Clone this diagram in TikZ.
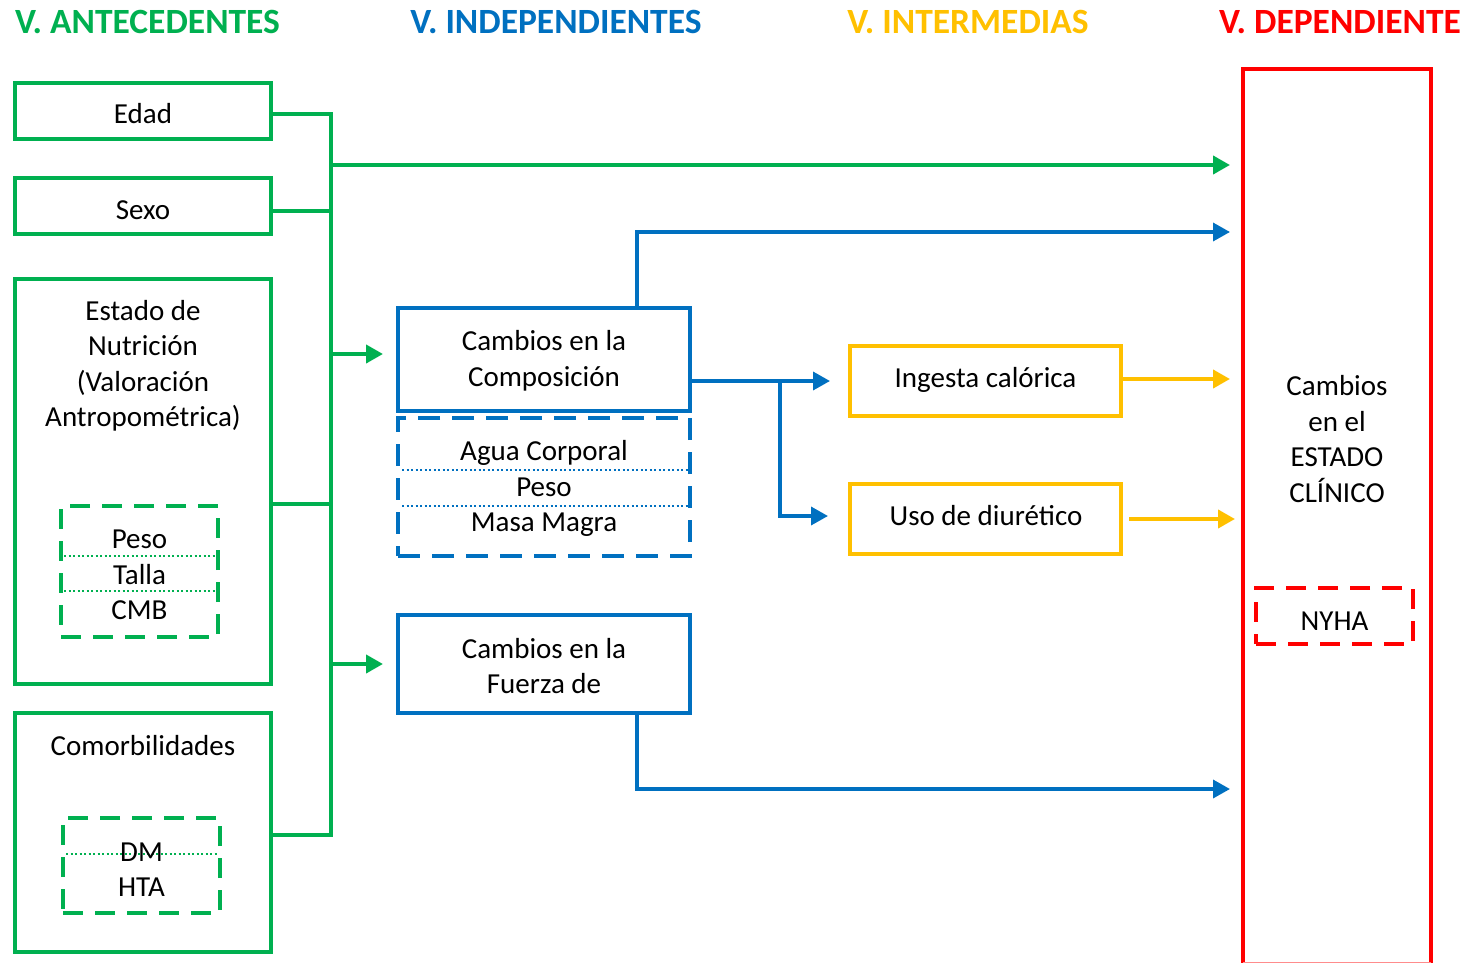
\documentclass[tikz,border=0pt]{standalone}
\usepackage{fontspec}
\setmainfont{Carlito}
\usetikzlibrary{arrows.meta}
\definecolor{cg}{HTML}{00B050}
\definecolor{cb}{HTML}{0070C0}
\definecolor{cy}{HTML}{FFC000}
\definecolor{cr}{HTML}{FF0000}
\tikzset{
  txt/.style={font=\fontsize{29}{35.5}\selectfont, align=center, inner sep=0},
  head/.style={font=\fontsize{35.5}{40}\selectfont\bfseries, inner sep=0},
  gbox/.style={draw=cg, line width=4pt, txt},
  bbox/.style={draw=cb, line width=4pt, txt},
  ybox/.style={draw=cy, line width=4pt, txt},
  rbox/.style={draw=cr, line width=4pt, txt},
  gdash/.style={draw=cg, line width=4pt, dash pattern=on 20pt off 12pt, txt},
  bdash/.style={draw=cb, line width=4pt, dash pattern=on 22pt off 12pt, txt},
  rdash/.style={draw=cr, line width=4pt, dash pattern=on 20pt off 12pt, txt},
  gdot/.style={draw=cg, line width=2pt, dash pattern=on 2pt off 2.5pt},
  bdot/.style={draw=cb, line width=2pt, dash pattern=on 2pt off 2.5pt},
  gline/.style={draw=cg, line width=4pt},
  garrow/.style={gline, -{Triangle[length=17pt,width=18pt]}},
  barrow/.style={draw=cb, line width=3.5pt, -{Triangle[length=17pt,width=18pt]}},
  yarrow/.style={draw=cy, line width=4pt, -{Triangle[length=17pt,width=18pt]}},
}
\begin{document}
\begin{tikzpicture}[x=1pt,y=-1pt]
\useasboundingbox (0,0) rectangle (1472,963);
% headings
\node[head, text=cg] (h1) at (147.5,22) {V. ANTECEDENTES};
\node[head, text=cb] (h2) at (556,22) {V. INDEPENDIENTES};
\node[head, text=cy] (h3) at (968,22) {V. INTERMEDIAS};
\node[head, text=cr] (h4) at (1340,22) {V. DEPENDIENTE};
% antecedentes
\node[gbox, minimum width=256, minimum height=56] (edad) at (143,111) {};
\node[txt] (edadt) at (143,114) {Edad};
\node[gbox, minimum width=256, minimum height=56] (sexo) at (143,206) {};
\node[txt] (sexot) at (143,210) {Sexo};
\node[gbox, minimum width=256, minimum height=405] (estado) at (143,481.5) {};
\node[txt] (estadot) at (143,366) {Estado de\\Nutrición\\(Valoración\\Antropométrica)};
\node[gdash, minimum width=157, minimum height=131] (antro) at (139.5,571.5) {};
\node[txt] (pesoA) at (139.5,539) {Peso};
\node[txt] (tallaA) at (139.5,575) {Talla};
\node[txt] (cmbA) at (139.5,610) {CMB};
\draw[gdot] (64,556) -- (216,556);
\draw[gdot] (64,591) -- (216,591);
\node[gbox, minimum width=256, minimum height=239] (comorb) at (143,832.5) {};
\node[txt] (comorbt) at (143,746) {Comorbilidades};
\node[gdash, minimum width=157, minimum height=95] (enf) at (141.5,865.5) {};
\draw[gdot] (66,854) -- (218,854);
\node[txt] (dm) at (141.5,852) {DM};
\node[txt] (hta) at (141.5,887) {HTA};
% bus
\coordinate (bt) at (331,114);
\coordinate (bb) at (331,835);
\draw[gline] (edad.east |- bt) -- (bt) -- (bb) -- (bb -| comorb.east);
\draw[gline] ([yshift=-5pt]sexo.east) -- ([yshift=-5pt]sexo.east -| bt);
\draw[gline] ([yshift=-22.5pt]estado.east) -- ([yshift=-22.5pt]estado.east -| bt);
% independientes
\node[bbox, minimum width=292, minimum height=103] (comp) at (544,359.5) {};
\node[txt] (compt) at (544,361) {Cambios en la\\Composición};
\node[bdash, minimum width=292, minimum height=138] (compd) at (544,487) {};
\draw[bdot] (402,470) -- (688,470);
\draw[bdot] (402,506) -- (688,506);
\node[txt] (agua) at (544,453) {Agua Corporal};
\node[txt] (pesoB) at (544,487) {Peso};
\node[txt] (masa) at (544,525) {Masa Magra};
\node[bbox, minimum width=292, minimum height=98] (fuer) at (544,664) {};
\node[txt] (fuert) at (544,666) {Cambios en la\\Fuerza de};
% intermedias
\node[ybox, minimum width=271, minimum height=70] (ing) at (985.5,381) {};
\node[txt] (ingt) at (985.5,380) {Ingesta calórica};
\node[ybox, minimum width=271, minimum height=70] (uso) at (985.5,519) {};
\node[txt] (usot) at (986,516) {Uso de diurético};
% dependiente
\draw[cr, line width=4pt] (1243,975) -- (1243,69) -- (1431,69) -- (1431,975);
\draw[cr!45, line width=3pt] (1243,963) -- (1431,963);
\node[txt] (estt) at (1337,439) {Cambios\\en el\\ESTADO\\CLÍNICO};
\node[rdash, minimum width=157, minimum height=56] (nyha) at (1334.5,616) {};
\node[txt] (nyhat) at (1334.5,621) {NYHA};
% targets
\coordinate (tA) at (1230,165);
\coordinate (tB) at (1230,232);
\coordinate (tC) at (383,354);
\coordinate (tD) at (383,664);
\coordinate (tI) at (830,381);
\coordinate (tU) at (828,516);
\coordinate (br) at (780,381);
\coordinate (tY1) at (1230,379);
\coordinate (tY2) at (1235,519);
\coordinate (tF) at (1230,789);
% connectors
\draw[garrow] (tA -| bt) -- (tA);
\draw[garrow] (tC -| bt) -- (tC);
\draw[garrow] (tD -| bt) -- (tD);
\draw[barrow] ([xshift=93pt]comp.north) |- (tB);
\draw[barrow] (comp.east |- tI) -- (tI);
\draw[barrow] (br) |- (tU);
\draw[barrow] ([xshift=93pt]fuer.south) |- (tF);
\draw[yarrow] (ing.east |- tY1) -- (tY1);
\draw[yarrow] ([xshift=6pt]uso.east |- tY2) -- (tY2);
\end{tikzpicture}
\end{document}
